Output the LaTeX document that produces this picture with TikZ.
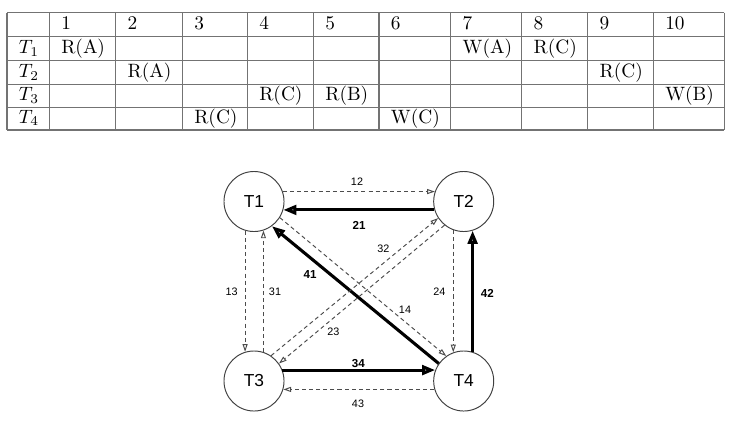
\documentclass[tikz,border=0pt]{standalone}
\usepackage{fontspec}
\usetikzlibrary{arrows.meta}
\newfontfamily\arialf{Liberation Sans}
\begin{document}
\begin{tikzpicture}[x=0.518pt,y=-0.518pt,
  grid/.style={draw=black!55, line width=0.55pt},
  cell/.style={anchor=base west, inner sep=0pt, font=\fontsize{10}{12}\selectfont},
  tnode/.style={circle, draw=black!75, line width=0.5pt, minimum size=31.1pt, inner sep=0pt, font=\arialf\fontsize{9}{10}\selectfont},
  thinedge/.style={draw=black!70, line width=0.5pt, dash pattern=on 2.1pt off 1.6pt, -{Triangle[open,length=4pt,width=2.6pt]}},
  thickedge/.style={draw=black, line width=1.6pt, -{Triangle[open,length=6.8pt,width=5pt]}},
  lbl/.style={font=\arialf\fontsize{5.6}{6}\selectfont, inner sep=0pt},
  blbl/.style={font=\arialf\bfseries\fontsize{6}{7}\selectfont, inner sep=0pt}]

\useasboundingbox (0,0) rectangle (730,420);

% table grid
\foreach \x in {7,49.3,115.7,182.3,247.3,313.3,379,450.7,521.7,587.7,653.3,724.3}
  \draw[grid] (\x,12.7) -- (\x,130);
\foreach \y in {12.7,36.7,60.7,84.3,107.7,130}
  \draw[grid] (7,\y) -- (724.3,\y);

% header
\foreach \c/\x in {1/49.3,2/115.7,3/182.3,4/247.3,5/313.3,6/379,7/450.7,8/521.7,9/587.7,10/653.3}
  \node[cell] (h\c) at (\x+11.6,29.75) {\c};

% row labels
\foreach \r/\y in {1/53.75,2/77.35,3/100.75,4/123.05}
  \node[cell] (r\r) at (18.6,\y) {$T_\r$};

% entries
\foreach \n/\x/\y/\t in {
  a/49.3/53.75/R(A), b/450.7/53.75/W(A), c/521.7/53.75/R(C),
  d/115.7/77.35/R(A), e/587.7/77.35/R(C),
  f/247.3/100.75/R(C), g/313.3/100.75/R(B), h/653.3/100.75/W(B),
  i/182.3/123.05/R(C), j/379/123.05/W(C)}
  \node[cell] (e\n) at (\x+11.6,\y) {\t};

% graph nodes
\node[tnode] (T1) at (254,201.5) {T1};
\node[tnode] (T2) at (463.7,201.5) {T2};
\node[tnode] (T3) at (254,381) {T3};
\node[tnode] (T4) at (463.7,381) {T4};

% edges
\draw[thinedge] (T1.19) -- (T2.161);
\draw[thickedge] (T2.196) -- (T1.-16);
\draw[thinedge] (T1.253) -- (T3.107);
\draw[thinedge] (T3.72) -- (T1.288);
\draw[thinedge] (T2.250) -- (T4.110);
\draw[thickedge] (T4.73) -- (T2.287);
\draw[thickedge] (T3.21) -- (T4.159);
\draw[thinedge] (T4.196) -- (T3.-16);
\draw[thickedge] (T4.145) -- (T1.-54);
\draw[thinedge] (T1.-32) -- (T4.125);
\draw[thinedge] (T3.56) -- (T2.213);
\draw[thinedge] (T2.231) -- (T3.35);

% labels
\node[lbl] (l12) at (357,182) {12};
\node[blbl] (l21) at (359,225.7) {21};
\node[lbl] (l13) at (231.7,291.7) {13};
\node[lbl] (l31) at (275,291.7) {31};
\node[lbl] (l24) at (439.3,291.7) {24};
\node[blbl] (l42) at (487.3,293.3) {42};
\node[blbl] (l34) at (358.3,363.5) {34};
\node[lbl] (l43) at (358,404) {43};
\node[blbl] (l41) at (310,275) {41};
\node[lbl] (l14) at (405,309.3) {14};
\node[lbl] (l32) at (383.3,248.3) {32};
\node[lbl] (l23) at (333.3,331.7) {23};
\end{tikzpicture}
\end{document}
